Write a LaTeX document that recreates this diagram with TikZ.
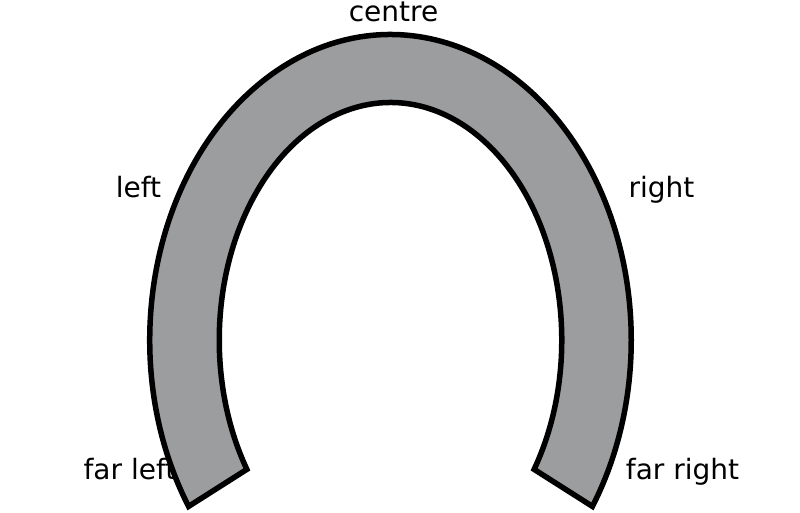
\documentclass[tikz,border=0pt]{standalone}
\usepackage{fontspec}
\setmainfont{DejaVu Sans}
\usetikzlibrary{calc}
\definecolor{shoegray}{RGB}{156,157,159}
\tikzset{
  lbl/.style={anchor=base, inner sep=0pt, font=\fontsize{28}{34}\selectfont},
  shoe/.style={fill=shoegray, draw=black, line width=5.5pt, line join=miter}
}
\begin{document}
\begin{tikzpicture}[x=1pt,y=1pt]
\useasboundingbox (0,-512) rectangle (800,0);
\coordinate (c) at (390.5,-340);
\node[lbl] (centre) at (393.5,-21) {centre};
\node[lbl] (left) at (138.5,-197) {left};
\node[lbl] (right) at (661.5,-197.5) {right};
\node[lbl] (farleft) at (130,-479) {far left};
\node[lbl] (farright) at (682.5,-479) {far right};
\path[shoe] ($(c)+(213:240.75 and 305.5)$)
  arc[start angle=213, end angle=-33, x radius=240.75, y radius=305.5]
  -- ($(c)+(-33:171.25 and 237.5)$)
  arc[start angle=-33, end angle=213, x radius=171.25, y radius=237.5]
  -- cycle;
\end{tikzpicture}
\end{document}
